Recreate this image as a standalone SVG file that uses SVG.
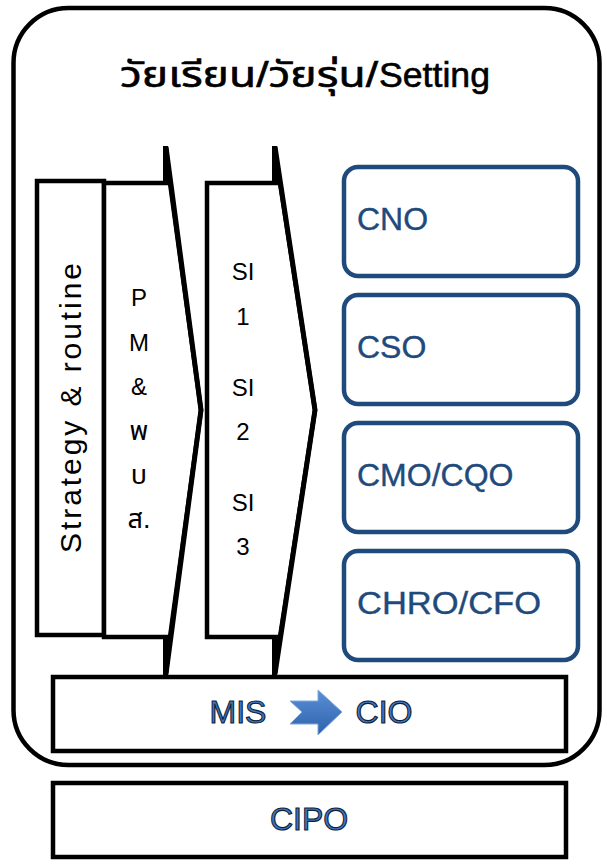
<svg xmlns="http://www.w3.org/2000/svg" width="607" height="864" viewBox="0 0 607 864">
<style>
.blk{fill:#fff;stroke:#000;stroke-width:4.5;stroke-linejoin:miter}
.blue{fill:#fff;stroke:#1F4A7C;stroke-width:4.5}
.bt{font-family:"Liberation Sans",Arial,sans-serif;font-size:32px;fill:#1F4A7C;stroke:#1F4A7C;stroke-width:0.4}
.t{font-family:"Liberation Sans","Noto Sans Thai","Noto Sans",sans-serif;fill:#000}
.ot{font-family:"Liberation Sans",Arial,sans-serif;font-size:32px;fill:#4177C2;stroke:#0E1F3A;stroke-width:1.1;text-anchor:middle}
</style>
<defs>
<linearGradient id="ag" x1="0" y1="0" x2="0" y2="1">
<stop offset="0" stop-color="#5A8FD6"/>
<stop offset="1" stop-color="#2E63AC"/>
</linearGradient>
</defs>
<g id="frame">
<rect x="13.5" y="8" width="586" height="757" rx="55" ry="55" fill="#fff" stroke="#000" stroke-width="4.5"/>
<text class="t" x="120" y="87" font-size="35" stroke="#000" stroke-width="0.6" textLength="258" lengthAdjust="spacingAndGlyphs">วัยเรียน/วัยรุ่น/</text>
<text class="t" x="379" y="87" font-size="35" stroke="#000" stroke-width="0.6" textLength="111" lengthAdjust="spacingAndGlyphs">Setting</text>
</g>
<g id="strategy">
<rect class="blk" x="37" y="181" width="67" height="454"/>
<text class="t" font-size="30" text-anchor="middle" textLength="290" transform="translate(81,408) rotate(-90)">Strategy &amp; routine</text>
</g>
<g id="pm">
<polygon class="blk" points="104,183 170,183 201,410 170,637 104,637"/>
<polyline points="166,147 201,410 166,674" fill="none" stroke="#000" stroke-width="5"/>
<polygon points="163,146 168,146 172,185 163,185" fill="#000"/>
<polygon points="163,635 172,635 168,675 163,675" fill="#000"/>
<g class="t" font-size="24" text-anchor="middle">
<text x="139" y="306">P</text>
<text x="139" y="351">M</text>
<text x="139" y="395">&amp;</text>
<text x="139" y="440" font-size="27">พ</text>
<text x="139" y="484" font-size="27">บ</text>
<text x="139" y="528" font-size="27">ส.</text>
</g>
</g>
<g id="si">
<polygon class="blk" points="207,183 280,183 315,410 280,637 207,637"/>
<polyline points="275,147 315,410 275,674" fill="none" stroke="#000" stroke-width="5"/>
<polygon points="272,146 277,146 281,185 272,185" fill="#000"/>
<polygon points="272,635 281,635 277,675 272,675" fill="#000"/>
<g class="t" font-size="24" text-anchor="middle">
<text x="243" y="280">SI</text>
<text x="243" y="325">1</text>
<text x="243" y="396">SI</text>
<text x="243" y="440">2</text>
<text x="243" y="511">SI</text>
<text x="243" y="555">3</text>
</g>
</g>
<g id="cno">
<rect class="blue" x="344" y="167" width="234" height="109" rx="14"/>
<text class="bt" x="357" y="230">CNO</text>
</g>
<g id="cso">
<rect class="blue" x="344" y="295" width="234" height="109" rx="14"/>
<text class="bt" x="357" y="358">CSO</text>
</g>
<g id="cmo">
<rect class="blue" x="344" y="423" width="234" height="109" rx="14"/>
<text class="bt" x="357" y="486">CMO/CQO</text>
</g>
<g id="chro">
<rect class="blue" x="344" y="551" width="234" height="109" rx="14"/>
<text class="bt" x="357" y="614" textLength="184" lengthAdjust="spacingAndGlyphs">CHRO/CFO</text>
</g>
<g id="mis">
<rect class="blk" x="53" y="677" width="513" height="74"/>
<text class="ot" x="238" y="723">MIS</text>
<text class="ot" x="384" y="723">CIO</text>
</g>
<g id="connectors">
<polygon points="290,701 318,701 318,690 342,712 318,735 318,724 290,724 302,712" fill="url(#ag)" stroke="#7FA8DE" stroke-width="1"/>
</g>
<g id="cipo">
<rect class="blk" x="53" y="783" width="513" height="74"/>
<text class="ot" x="309" y="830">CIPO</text>
</g>
</svg>
